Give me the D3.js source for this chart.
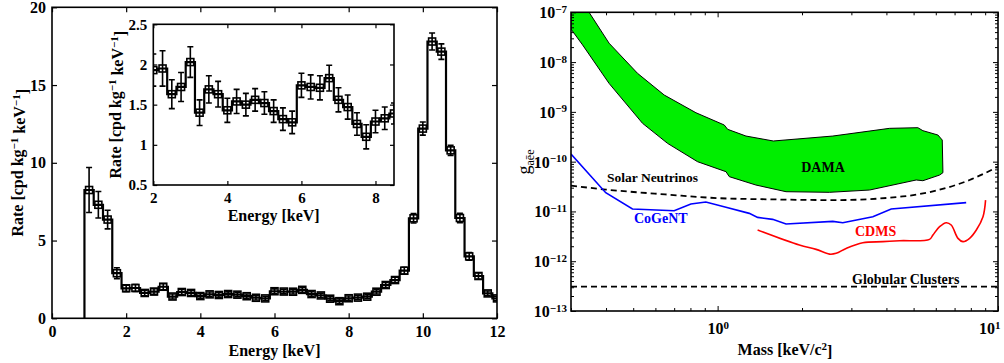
<!DOCTYPE html>
<html>
<head>
<meta charset="utf-8">
<script src="https://cdn.jsdelivr.net/npm/d3@7"></script>
<style>
body { margin: 0; background: #fff; }
text { font-family: "Liberation Serif", "Times New Roman", serif; font-weight: bold; fill: #000; }
</style>
</head>
<body>
<svg id="fig" width="1004" height="363"></svg>
<script>
// ---- left panel: rate spectrum (bin centres, keV) ----
var energy = [1.0, 1.25, 1.5, 1.75, 2.0, 2.25, 2.5, 2.75, 3.0, 3.25, 3.5, 3.75, 4.0, 4.25, 4.5, 4.75,
  5.0, 5.25, 5.5, 5.75, 6.0, 6.25, 6.5, 6.75, 7.0, 7.25, 7.5, 7.75, 8.0, 8.25, 8.5, 8.75,
  9.0, 9.25, 9.5, 9.75, 10.0, 10.25, 10.5, 10.75, 11.0, 11.25, 11.5, 11.75, 12.0];
var rate = [8.25, 7.3, 6.35, 2.9, 1.93, 1.95, 1.63, 1.72, 2.03, 1.40, 1.69, 1.63, 1.43, 1.54, 1.50, 1.56,
  1.52, 1.42, 1.32, 1.28, 1.74, 1.72, 1.71, 1.83, 1.56, 1.47, 1.26, 1.10, 1.29, 1.33, 1.39, 1.71,
  2.14, 2.46, 3.06, 6.43, 12.2, 17.8, 17.15, 10.8, 6.45, 3.98, 2.72, 1.6, 1.28];
var rateErr = [1.45, 0.85, 0.6, 0.35, 0.2, 0.22, 0.18, 0.18, 0.19, 0.16, 0.17, 0.16, 0.15, 0.15, 0.14, 0.14,
  0.14, 0.14, 0.14, 0.14, 0.15, 0.15, 0.15, 0.16, 0.15, 0.15, 0.14, 0.15, 0.14, 0.14, 0.13, 0.15,
  0.17, 0.18, 0.22, 0.3, 0.42, 0.55, 0.5, 0.32, 0.3, 0.25, 0.2, 0.16, 0.14];
var binHalf = 0.125;
var mainXTicks = [0, 2, 4, 6, 8, 10, 12];
var mainYTicks = [0, 5, 10, 15, 20];
var insetXTicks = [2, 4, 6, 8];
var insetYTicks = [0.5, 1, 1.5, 2, 2.5];

// ---- right panel: coupling limits vs mass ----
var damaMass = [0.3, 0.348, 0.41, 0.518, 0.645, 0.837, 1.056, 1.086, 1.262, 1.58, 2.575, 4.104, 5.179, 5.397, 6.105, 6.327, 6.362,
  6.19, 5.397, 5.108, 3.481, 2.505, 1.754, 1.37, 1.101, 1.071, 0.848, 0.663, 0.54, 0.41, 0.33, 0.3];
var damaG = [1e-7, 1e-7, 2.4e-8, 5.95e-9, 2.18e-9, 9.6e-10, 5.45e-10, 4.46e-10, 3.27e-10, 2.6e-10, 3.27e-10, 4.67e-10, 4.81e-10, 4.19e-10, 3.43e-10, 2.72e-10, 6.0e-11,
  5.38e-11, 4.14e-11, 4.28e-11, 2.69e-11, 2.42e-11, 2.49e-11, 3.39e-11, 4.99e-11, 6.29e-11, 9.98e-11, 2.33e-10, 5.88e-10, 3.74e-9, 2.21e-8, 4.6e-8];
var solarMass = [0.3, 0.4, 0.65, 1.0, 1.53, 2.64, 4.57, 6.02, 7.92, 10];
var solarG = [3.3e-11, 2.75e-11, 2.2e-11, 1.85e-11, 1.75e-11, 1.69e-11, 2.0e-11, 2.62e-11, 4.28e-11, 7.9e-11];
var cogentMass = [0.3, 0.399, 0.497, 0.700, 0.803, 0.908, 1.071, 1.297, 1.389, 1.571, 1.754, 2.575, 2.795, 3.578, 4.16, 7.70];
var cogentG = [1.42e-10, 2.38e-11, 1.12e-11, 1.035e-11, 1.41e-11, 1.55e-11, 1.21e-11, 9.15e-12, 7.6e-12, 6.93e-12, 5.58e-12, 6.31e-12, 5.94e-12, 7.83e-12, 1.12e-11, 1.5e-11];
var cdmsMass = [1.389, 1.957, 2.245, 2.505, 2.647, 2.873, 3.295, 3.884, 4.456, 5.70, 5.86, 6.19, 6.54, 6.81, 7.20, 7.50, 7.92, 8.37, 8.84, 9.03];
var cdmsG = [4.23e-12, 2.11e-12, 1.73e-12, 1.39e-12, 1.44e-12, 1.81e-12, 2.35e-12, 2.47e-12, 2.58e-12, 2.75e-12, 3.36e-12, 4.93e-12, 5.94e-12, 5.33e-12, 2.88e-12, 2.47e-12, 2.88e-12, 4.23e-12, 7.83e-12, 1.69e-11];
var globularG = 3.08e-13;
var massDomain = [0.3, 10];
var gDomain = [1e-13, 1e-7];

var svg = d3.select("#fig");

function sup(sel, base, exp, size) {
  sel.append("tspan").text(base);
  sel.append("tspan").attr("dy", "-0.5em").style("font-size", size + "px").text(exp);
}

//////////////// LEFT PANEL ////////////////
var L = { x0: 52, x1: 497, y0: 7.3, y1: 318.3 };
var xMain = d3.scaleLinear().domain([0, 12]).range([L.x0, L.x1]);
var yMain = d3.scaleLinear().domain([0, 20]).range([L.y1, L.y0]);

svg.append("clipPath").attr("id", "clipMain")
  .append("rect").attr("x", L.x0).attr("y", L.y0).attr("width", L.x1 - L.x0).attr("height", L.y1 - L.y0);

function stairPoints() {
  var pts = [[energy[0] - binHalf, 0]];
  energy.forEach(function (c, i) {
    pts.push([c - binHalf, rate[i]]);
    pts.push([c + binHalf, rate[i]]);
  });
  return pts;
}

function drawSpectrum(g, xs, ys, clipId, markSize, capW) {
  var layer = g.append("g").attr("clip-path", "url(#" + clipId + ")");
  var line = d3.line().x(function (d) { return xs(d[0]); }).y(function (d) { return ys(d[1]); });
  layer.append("path").datum(stairPoints())
    .attr("d", line)
    .style("fill", "none").style("stroke", "#000").style("stroke-width", 2.2).style("stroke-linejoin", "miter");
  var bars = layer.selectAll(".eb").data(energy).enter().append("g").attr("class", "eb");
  bars.append("line")
    .attr("x1", function (d) { return xs(d); }).attr("x2", function (d) { return xs(d); })
    .attr("y1", function (d, i) { return ys(rate[i] - rateErr[i]); })
    .attr("y2", function (d, i) { return ys(rate[i] + rateErr[i]); });
  bars.append("line")
    .attr("x1", function (d) { return xs(d) - capW; }).attr("x2", function (d) { return xs(d) + capW; })
    .attr("y1", function (d, i) { return ys(rate[i] + rateErr[i]); })
    .attr("y2", function (d, i) { return ys(rate[i] + rateErr[i]); });
  bars.append("line")
    .attr("x1", function (d) { return xs(d) - capW; }).attr("x2", function (d) { return xs(d) + capW; })
    .attr("y1", function (d, i) { return ys(rate[i] - rateErr[i]); })
    .attr("y2", function (d, i) { return ys(rate[i] - rateErr[i]); });
  bars.append("rect")
    .attr("x", function (d) { return xs(d) - markSize / 2; })
    .attr("y", function (d, i) { return ys(rate[i]) - markSize / 2; })
    .attr("width", markSize).attr("height", markSize)
    .style("fill", "none");
  bars.selectAll("line, rect").style("stroke", "#000").style("stroke-width", 1.6);
}

var left = svg.append("g");
drawSpectrum(left, xMain, yMain, "clipMain", 7, 3);

function boxAxes(g, xs, ys, xt, yt, fmtX, fmtY, size, tick) {
  var bx = xs.range(), by = ys.range();
  g.append("g").attr("transform", "translate(0," + by[0] + ")")
    .call(d3.axisBottom(xs).tickValues(xt).tickSize(-tick).tickSizeOuter(0).tickPadding(7).tickFormat(fmtX));
  g.append("g").attr("transform", "translate(0," + by[1] + ")")
    .call(d3.axisTop(xs).tickValues(xt).tickSize(-tick).tickSizeOuter(0).tickFormat(""));
  g.append("g").attr("transform", "translate(" + bx[0] + ",0)")
    .call(d3.axisLeft(ys).tickValues(yt).tickSize(-tick).tickSizeOuter(0).tickPadding(6).tickFormat(fmtY));
  g.append("g").attr("transform", "translate(" + bx[1] + ",0)")
    .call(d3.axisRight(ys).tickValues(yt).tickSize(-tick).tickSizeOuter(0).tickFormat(""));
  g.selectAll(".domain").remove();
  g.selectAll(".tick line").style("stroke", "#000").style("stroke-width", 1.2);
  g.selectAll(".tick text").attr("font-family", null).attr("font-size", null)
    .style("font-size", size + "px");
  g.append("rect").attr("x", bx[0]).attr("y", by[1]).attr("width", bx[1] - bx[0]).attr("height", by[0] - by[1])
    .style("fill", "none").style("stroke", "#000").style("stroke-width", 1.6);
}

var mainAx = left.append("g");
boxAxes(mainAx, xMain, yMain, mainXTicks, mainYTicks, d3.format("d"), d3.format("d"), 16, 5);

left.append("text").attr("x", (L.x0 + L.x1) / 2).attr("y", 356)
  .style("text-anchor", "middle").style("font-size", "16px").text("Energy [keV]");
var ylab = left.append("text").attr("transform", "translate(23," + ((L.y0 + L.y1) / 2) + ") rotate(-90)")
  .style("text-anchor", "middle").style("font-size", "16px");
ylab.append("tspan").text("Rate [cpd kg");
ylab.append("tspan").attr("dy", "-0.45em").style("font-size", "11px").text("−1");
ylab.append("tspan").attr("dy", "0.45em").text(" keV");
ylab.append("tspan").attr("dy", "-0.45em").style("font-size", "11px").text("−1");
ylab.append("tspan").attr("dy", "0.45em").text("]");

// inset
var I = { x0: 153.3, x1: 394, y0: 24.3, y1: 185 };
var xIn = d3.scaleLinear().domain([2, 8.5]).range([I.x0, I.x1]);
var yIn = d3.scaleLinear().domain([0.5, 2.5]).range([I.y1, I.y0]);
svg.append("clipPath").attr("id", "clipInset")
  .append("rect").attr("x", I.x0).attr("y", I.y0).attr("width", I.x1 - I.x0).attr("height", I.y1 - I.y0);
var inset = svg.append("g");
inset.append("rect").attr("x", I.x0).attr("y", I.y0).attr("width", I.x1 - I.x0).attr("height", I.y1 - I.y0)
  .style("fill", "#fff");
drawSpectrum(inset, xIn, yIn, "clipInset", 7, 3);
var insetAx = inset.append("g");
boxAxes(insetAx, xIn, yIn, insetXTicks, insetYTicks, d3.format("d"), function (d) { return String(d); }, 15, 4);
inset.append("text").attr("x", (I.x0 + I.x1) / 2).attr("y", 221)
  .style("text-anchor", "middle").style("font-size", "16px").text("Energy [keV]");
var ylab2 = inset.append("text").attr("transform", "translate(121," + ((I.y0 + I.y1) / 2) + ") rotate(-90)")
  .style("text-anchor", "middle").style("font-size", "16px");
ylab2.append("tspan").text("Rate [cpd kg");
ylab2.append("tspan").attr("dy", "-0.45em").style("font-size", "11px").text("−1");
ylab2.append("tspan").attr("dy", "0.45em").text(" keV");
ylab2.append("tspan").attr("dy", "-0.45em").style("font-size", "11px").text("−1");
ylab2.append("tspan").attr("dy", "0.45em").text("]");

//////////////// RIGHT PANEL ////////////////
var R = { x0: 571, x1: 998, y0: 12.3, y1: 311 };
var xR = d3.scaleLog().domain(massDomain).range([R.x0, R.x1]);
var yR = d3.scaleLog().domain(gDomain).range([R.y1, R.y0]);
svg.append("clipPath").attr("id", "clipRight")
  .append("rect").attr("x", R.x0).attr("y", R.y0).attr("width", R.x1 - R.x0).attr("height", R.y1 - R.y0);
var right = svg.append("g");
var plot = right.append("g").attr("clip-path", "url(#clipRight)");

var lineR = d3.line().x(function (d) { return xR(d[0]); }).y(function (d) { return yR(d[1]); });
var damaPts = damaMass.map(function (m, i) { return [m, damaG[i]]; });
plot.append("path").datum(damaPts)
  .attr("d", lineR.curve(d3.curveLinearClosed))
  .style("fill", "#00ee00").style("stroke", "#000").style("stroke-width", 1);
lineR.curve(d3.curveLinear);

plot.append("path").datum(solarMass.map(function (m, i) { return [m, solarG[i]]; }))
  .attr("d", d3.line().x(function (d) { return xR(d[0]); }).y(function (d) { return yR(d[1]); }).curve(d3.curveMonotoneX))
  .style("fill", "none").style("stroke", "#000").style("stroke-width", 1.8).style("stroke-dasharray", "6,4");
plot.append("line")
  .attr("x1", R.x0).attr("x2", R.x1).attr("y1", yR(globularG)).attr("y2", yR(globularG))
  .style("stroke", "#000").style("stroke-width", 1.8).style("stroke-dasharray", "6,4");
plot.append("path").datum(cogentMass.map(function (m, i) { return [m, cogentG[i]]; }))
  .attr("d", lineR)
  .style("fill", "none").style("stroke", "#0000ff").style("stroke-width", 1.6);
plot.append("path").datum(cdmsMass.map(function (m, i) { return [m, cdmsG[i]]; }))
  .attr("d", d3.line().x(function (d) { return xR(d[0]); }).y(function (d) { return yR(d[1]); }).curve(d3.curveCatmullRom))
  .style("fill", "none").style("stroke", "#ff0000").style("stroke-width", 1.6);

// labels
plot.append("text").attr("x", 823).attr("y", 172).style("text-anchor", "middle").style("font-size", "14px").text("DAMA");
plot.append("text").attr("x", 607).attr("y", 182).style("font-size", "13.5px").text("Solar Neutrinos");
plot.append("text").attr("x", 634).attr("y", 223).style("font-size", "14px").style("fill", "#0000ff").text("CoGeNT");
plot.append("text").attr("x", 855).attr("y", 236).style("font-size", "14px").style("fill", "#ff0000").text("CDMS");
plot.append("text").attr("x", 852).attr("y", 284).style("font-size", "14px").text("Globular Clusters");

// log axes: major and minor ticks inside all four sides
var xMajor = [1, 10];
var xMinor = [0.3, 0.4, 0.5, 0.6, 0.7, 0.8, 0.9, 2, 3, 4, 5, 6, 7, 8, 9];
var yMajor = [1e-13, 1e-12, 1e-11, 1e-10, 1e-9, 1e-8, 1e-7];
var yMinor = [];
[-13, -12, -11, -10, -9, -8].forEach(function (e) {
  [2, 3, 4, 5, 6, 7, 8, 9].forEach(function (k) { yMinor.push(k * Math.pow(10, e)); });
});
var ax = right.append("g");
function tickSet(vals, len) {
  ax.append("g").attr("transform", "translate(0," + R.y1 + ")").call(d3.axisBottom(xR).tickValues(vals).tickSize(-len).tickFormat(""));
  ax.append("g").attr("transform", "translate(0," + R.y0 + ")").call(d3.axisTop(xR).tickValues(vals).tickSize(-len).tickFormat(""));
}
function tickSetY(vals, len) {
  ax.append("g").attr("transform", "translate(" + R.x0 + ",0)").call(d3.axisLeft(yR).tickValues(vals).tickSize(-len).tickFormat(""));
  ax.append("g").attr("transform", "translate(" + R.x1 + ",0)").call(d3.axisRight(yR).tickValues(vals).tickSize(-len).tickFormat(""));
}
tickSet(xMajor, 5); tickSet(xMinor, 3);
tickSetY(yMajor, 5); tickSetY(yMinor, 3);
ax.selectAll(".domain").remove();
ax.selectAll(".tick line").style("stroke", "#000").style("stroke-width", 1);
ax.append("rect").attr("x", R.x0).attr("y", R.y0).attr("width", R.x1 - R.x0).attr("height", R.y1 - R.y0)
  .style("fill", "none").style("stroke", "#000").style("stroke-width", 1.6);

yMajor.forEach(function (v) {
  var t = ax.append("text").attr("x", R.x0 - 4).attr("y", yR(v) + 6).style("text-anchor", "end").style("font-size", "16px");
  sup(t, "10", "−" + Math.round(-Math.log10(v)), 11);
});
xMajor.forEach(function (v) {
  // keep the last label inside the page edge
  var x = Math.min(xR(v) - 10, 1002 - 23);
  var t = ax.append("text").attr("x", x).attr("y", 334).style("font-size", "16px");
  sup(t, "10", String(Math.round(Math.log10(v))), 11);
});

var xlabR = right.append("text").attr("x", 785).attr("y", 355).style("text-anchor", "middle").style("font-size", "16px");
xlabR.append("tspan").text("Mass [keV/c");
xlabR.append("tspan").attr("dy", "-0.45em").style("font-size", "11px").text("2");
xlabR.append("tspan").attr("dy", "0.45em").text("]");

var glab = right.append("text").attr("transform", "translate(530,162) rotate(-90)").style("text-anchor", "middle");
glab.append("tspan").style("font-size", "18px").style("font-weight", "normal").text("g");
glab.append("tspan").attr("dy", "0.3em").style("font-size", "12px").style("font-weight", "normal").text("aēe");
</script>
</body>
</html>
